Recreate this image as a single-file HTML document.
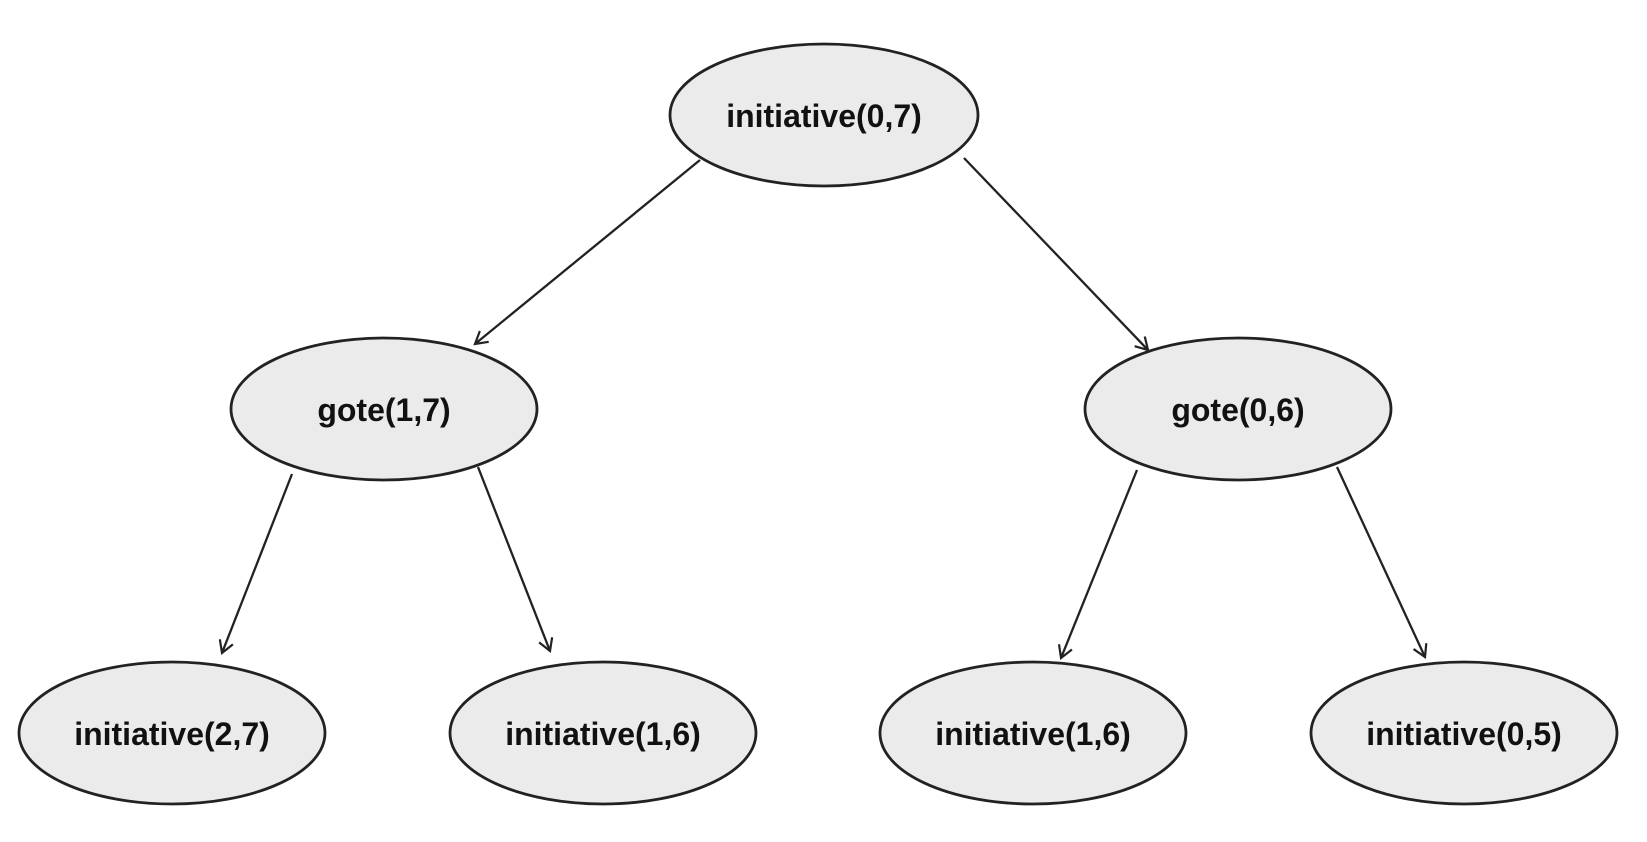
<!DOCTYPE html>
<html><head><style>html,body{margin:0;padding:0;background:#fff}</style></head>
<body>
<svg width="1647" height="837" viewBox="0 0 1647 837" xmlns="http://www.w3.org/2000/svg">
<defs><marker id="a" markerWidth="16" markerHeight="16" refX="13" refY="8" orient="auto" markerUnits="userSpaceOnUse"><path d="M1,1 L13,8 L1,15" fill="none" stroke="#222" stroke-width="2.2"/></marker></defs>
<g stroke="#222" stroke-width="2.3" marker-end="url(#a)">
<line x1="700" y1="160" x2="475" y2="344"/>
<line x1="964" y1="158" x2="1148" y2="350"/>
<line x1="292" y1="474" x2="222" y2="653"/>
<line x1="478" y1="467" x2="550" y2="651"/>
<line x1="1137" y1="470" x2="1061" y2="658"/>
<line x1="1337" y1="467" x2="1425" y2="657"/>
</g>
<g fill="#ebebeb" stroke="#222" stroke-width="2.8">
<ellipse cx="824" cy="115" rx="154" ry="71"/>
<ellipse cx="384" cy="409" rx="153" ry="71"/>
<ellipse cx="1238" cy="409" rx="153" ry="71"/>
<ellipse cx="172" cy="733" rx="153" ry="71"/>
<ellipse cx="603" cy="733" rx="153" ry="71"/>
<ellipse cx="1033" cy="733" rx="153" ry="71"/>
<ellipse cx="1464" cy="733" rx="153" ry="71"/>
</g>
<g font-family="Liberation Sans, sans-serif" font-weight="bold" font-size="32" fill="#111" text-anchor="middle">
<text x="824" y="127">initiative(0,7)</text>
<text x="384" y="421">gote(1,7)</text>
<text x="1238" y="421">gote(0,6)</text>
<text x="172" y="745">initiative(2,7)</text>
<text x="603" y="745">initiative(1,6)</text>
<text x="1033" y="745">initiative(1,6)</text>
<text x="1464" y="745">initiative(0,5)</text>
</g>
</svg>
</body></html>
